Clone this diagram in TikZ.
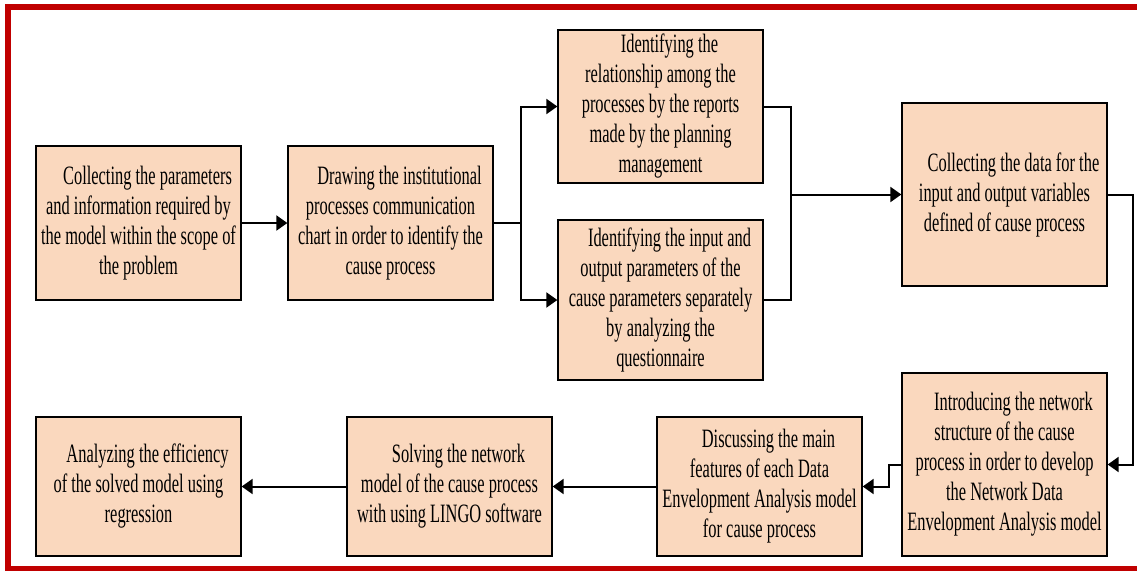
\documentclass[tikz,border=0pt]{standalone}
\usepackage{fontspec}
\setmainfont{Liberation Serif}[FakeStretch=0.62]
\usetikzlibrary{arrows.meta}
\definecolor{boxfill}{RGB}{250,216,190}
\definecolor{frame}{RGB}{192,0,0}
\tikzset{
  procbox/.style={draw=black, line width=1.3pt, fill=boxfill, minimum width=205pt,
    inner sep=0pt, align=center, font=\fontsize{26.5}{30}\selectfont},
  conn/.style={line width=2pt, draw=black},
  arr/.style={conn, -{Triangle[length=11pt,width=15pt]}}
}
\newcommand{\ind}{\hspace*{18pt}}
\begin{document}
\begin{tikzpicture}[x=1pt,y=-1pt]
\useasboundingbox (0,0) rectangle (1137,570);
\clip (0,0) rectangle (1137,570);
\draw[frame, line width=6pt] (7.5,7) rectangle (1160,569);

\node[procbox, minimum height=154pt] (B1) at (138.5,223) {\ind Collecting the parameters\\and information required by\\the model within the scope of\\the problem};
\node[procbox, minimum height=154pt] (B2) at (390.5,223) {\ind Drawing the institutional\\processes communication\\chart in order to identify the\\cause process};
\node[procbox, minimum height=153pt] (B3) at (660.5,106.5) {\ind Identifying the\\relationship among the\\processes by the reports\\made by the planning\\management};
\node[procbox, minimum height=160pt] (B4) at (660.5,300) {\ind Identifying the input and\\output parameters of the\\cause parameters separately\\by analyzing the\\questionnaire};
\node[procbox, minimum height=183pt] (B5) at (1004.5,194.5) {\ind Collecting the data for the\\input and output variables\\defined of cause process};
\node[procbox, minimum height=183pt] (B6) at (1004.5,464.5) {\ind Introducing the network\\structure of the cause\\process in order to develop\\the Network Data\\Envelopment Analysis model};
\node[procbox, minimum height=139pt] (B7) at (759.5,486.5) {\ind Discussing the main\\features of each Data\\Envelopment Analysis model\\for cause process};
\node[procbox, minimum height=139pt] (B8) at (449.5,486.5) {\ind Solving the network\\model of the cause process\\with using LINGO software};
\node[procbox, minimum height=139pt] (B9) at (138.5,486.5) {\ind Analyzing the efficiency\\of the solved model using\\regression};

\coordinate (j1) at (521,223);
\coordinate (j2) at (791,194.5);
\coordinate (j3) at (1133,194.5);
\coordinate (j4) at (889,464.5);
\coordinate (j5) at (889,486.5);

\draw[arr] (B1.east) -- (B2.west);
\draw[conn] (B2.east) -- (j1);
\draw[arr] (j1) |- (B3.west);
\draw[arr] (j1) |- (B4.west);
\draw[conn] (B3.east) -| (j2);
\draw[conn] (B4.east) -| (j2);
\draw[arr] (j2) -- (B5.west);
\draw[arr] (B5.east) -- (j3) |- (B6.east);
\draw[arr] (B6.west) -- (j4) -- (j5) -- (B7.east);
\draw[arr] (B7.west) -- (B8.east);
\draw[arr] (B8.west) -- (B9.east);
\end{tikzpicture}
\end{document}
